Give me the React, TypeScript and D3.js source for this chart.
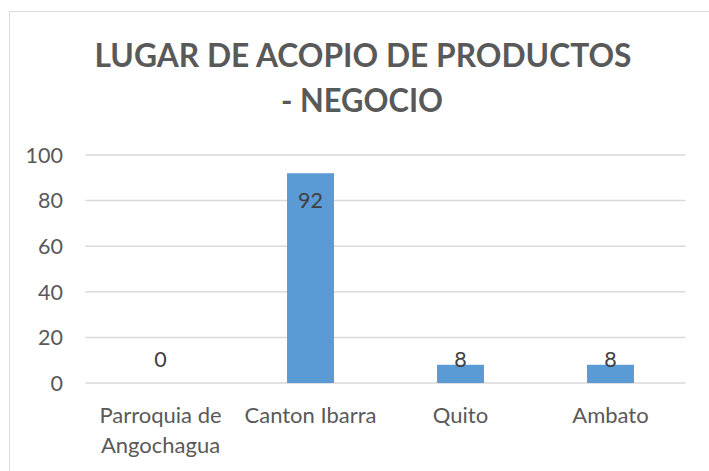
import React from "react";
import * as d3 from "d3";

const categories: string[][] = [["Parroquia de", "Angochagua"], ["Canton Ibarra"], ["Quito"], ["Ambato"]];
const values: number[] = [0, 92, 8, 8];
const yTicks: number[] = [0, 20, 40, 60, 80, 100];
const titleLines: string[] = ["LUGAR DE ACOPIO DE PRODUCTOS", "- NEGOCIO"];

const W = 709;
const H = 471;
const plot = { left: 85.5, right: 685.5, top: 155, bottom: 383 };
const textColor = "#595959";
const gridColor = "#d9d9d9";
const barColor = "#5B9BD5";
const font = "Lato, 'Open Sans', sans-serif";

export default function App() {
  const x = d3
    .scaleBand<number>()
    .domain(values.map((_, i) => i))
    .range([plot.left, plot.right])
    .paddingInner(0.687)
    .paddingOuter(0.3435);
  const y = d3.scaleLinear().domain([0, 100]).range([plot.bottom, plot.top]);

  return (
    <svg
      width={W}
      height={H}
      style={{ position: "absolute", left: 0, top: 0, background: "#fff" }}
      fontFamily={font}
    >
      <rect x={9.5} y={11.5} width={800} height={600} fill="#fff" stroke={gridColor} strokeWidth={1} />
      <text
        x={363}
        y={67}
        textAnchor="middle"
        fontSize={33}
        fontWeight="bold"
        fill={textColor}
        textLength={537}
        lengthAdjust="spacingAndGlyphs"
      >
        {titleLines[0]}
      </text>
      <text
        x={362}
        y={112}
        textAnchor="middle"
        fontSize={33}
        fontWeight="bold"
        fill={textColor}
        textLength={162}
        lengthAdjust="spacingAndGlyphs"
      >
        {titleLines[1]}
      </text>
      {yTicks.map((t) => (
        <g key={t}>
          <line x1={plot.left} x2={plot.right} y1={y(t)} y2={y(t)} stroke={gridColor} strokeWidth={1.5} />
          <text x={63} y={y(t)} dy="0.36em" textAnchor="end" fontSize={21.5} fill={textColor}>
            {t}
          </text>
        </g>
      ))}
      {values.map((v, i) => {
        const bx = x(i) as number;
        const top = y(v);
        const labelY = Math.min(top + 35, y(0) - 16);
        return (
          <g key={i}>
            {v > 0 && (
              <rect x={bx} y={top} width={x.bandwidth()} height={y(0) - top} fill={barColor} />
            )}
            <text x={bx + x.bandwidth() / 2} y={labelY} textAnchor="middle" fontSize={21.5} fill="#404040">
              {v}
            </text>
          </g>
        );
      })}
      {categories.map((lines, i) => {
        const centerX = (x(i) as number) + x.bandwidth() / 2;
        return (
          <text key={i} x={centerX} y={423} textAnchor="middle" fontSize={22} fill={textColor}>
            {lines.map((l, j) => (
              <tspan key={j} x={centerX} dy={j === 0 ? 0 : 30}>
                {l}
              </tspan>
            ))}
          </text>
        );
      })}
    </svg>
  );
}
